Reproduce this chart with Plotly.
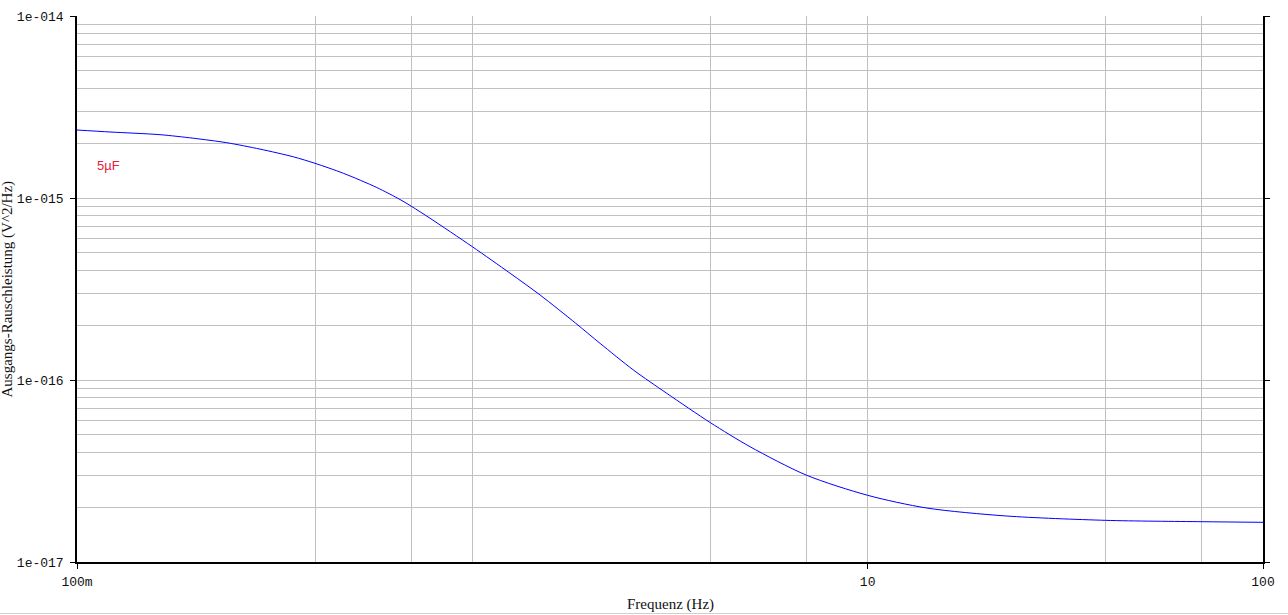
import plotly.graph_objects as go

# Data (frequency in Hz, output noise power in V^2/Hz)
freq_hz = [0.1, 0.1212, 0.1622, 0.1969, 0.2391, 0.2904, 0.3526, 0.4, 0.4718,
           0.5731, 0.6564, 0.7025, 0.7816, 1.0, 1.246, 1.484, 1.826, 2.104,
           2.555, 3.103, 4.0, 5.04, 7.0, 10.0, 14.1, 22.4, 40.0, 70.0, 100.0]
noise_psd = [2.364e-15, 2.305e-15, 2.228e-15, 2.13e-15, 2.013e-15, 1.856e-15,
             1.684e-15, 1.551e-15, 1.367e-15, 1.142e-15, 9.81e-16, 8.98e-16,
             7.74e-16, 5.40e-16, 3.86e-16, 2.93e-16, 2.05e-16, 1.59e-16,
             1.135e-16, 8.45e-17, 5.83e-17, 4.30e-17, 3.0e-17, 2.325e-17,
             1.98e-17, 1.79e-17, 1.694e-17, 1.665e-17, 1.652e-17]

x_tick_vals = [0.1, 10, 100]
x_tick_text = ["100m", "10", "100"]
x_grid_vals = [0.4, 0.7, 1, 4, 7, 40, 70]
y_tick_vals = [1e-17, 1e-16, 1e-15, 1e-14]
y_tick_text = ["1e-017", "1e-016", "1e-015", "1e-014"]
y_grid_vals = [k * 10.0 ** e for e in (-17, -16, -15) for k in range(2, 10)]

series_label = "5µF"
x_title = "Frequenz (Hz)"
y_title = "Ausgangs-Rauschleistung (V^2/Hz)"

# body margin is removed by a small post script, so the figure fills the window
W, H = 1288, 615
L, R, T, B = 77, 1263, 16, 562

def px_x(p):
    return (p - L) / (R - L)

def px_y(p):
    return (B - p) / (B - T)

fig = go.Figure()
fig.add_trace(go.Scatter(
    x=freq_hz, y=noise_psd, mode="lines",
    line=dict(color="#0000ff", width=1, shape="spline", smoothing=0.8),
    hoverinfo="skip", showlegend=False,
))

tick_font = dict(family="Liberation Mono, Courier New, monospace", size=13, color="#111111")
grid_col = "#c0c0c0"

fig.update_xaxes(
    type="log", range=[-1, 2], automargin=False,
    tickmode="array", tickvals=x_tick_vals, ticktext=x_tick_text,
    ticks="outside", ticklen=5, tickwidth=1, tickcolor="black",
    showline=True, linecolor="black", linewidth=1.5, mirror=False,
    showgrid=True, gridcolor=grid_col, gridwidth=1,
    minor=dict(tickmode="array", tickvals=x_grid_vals, showgrid=True,
               gridcolor=grid_col, gridwidth=1, ticks=""),
    tickfont=tick_font, zeroline=False, ticklabelstandoff=2,
)
fig.update_yaxes(
    type="log", range=[-17, -14], automargin=False,
    tickmode="array", tickvals=y_tick_vals, ticktext=y_tick_text,
    ticks="outside", ticklen=5, tickwidth=1, tickcolor="black",
    showline=True, linecolor="black", linewidth=1.5, mirror="ticks",
    showgrid=True, gridcolor=grid_col, gridwidth=1,
    minor=dict(tickmode="array", tickvals=y_grid_vals, showgrid=True,
               gridcolor=grid_col, gridwidth=1, ticks=""),
    tickfont=tick_font, zeroline=False, ticklabelstandoff=4,
)

title_font = dict(family="Liberation Serif, Times New Roman, serif", size=15, color="#111111")

fig.update_layout(
    width=W, height=H,
    margin=dict(l=L, r=W - R, t=T, b=H - B, pad=0, autoexpand=False),
    paper_bgcolor="white", plot_bgcolor="white",
    annotations=[
        dict(text=x_title, xref="paper", yref="paper", x=px_x(670), y=px_y(604),
             xanchor="center", yanchor="middle", showarrow=False, font=title_font),
        dict(text=y_title, xref="paper", yref="paper", x=px_x(6.5), y=0.5,
             xanchor="center", yanchor="middle", textangle=-90, showarrow=False,
             font=title_font),
        dict(text=series_label, xref="paper", yref="paper", x=px_x(108), y=px_y(165),
             xanchor="center", yanchor="middle", showarrow=False,
             font=dict(family="Liberation Sans, Arial, sans-serif", size=13, color="#e8203c")),
    ],
    shapes=[
        dict(type="line", xref="paper", yref="paper", x0=px_x(0), x1=px_x(W),
             y0=px_y(613.5), y1=px_y(613.5), line=dict(color="#d4d0c8", width=1)),
    ],
)

fig.write_html("out.html",
               config={"displayModeBar": False},
               post_script="document.body.style.margin='0';document.body.style.overflow='hidden';")
